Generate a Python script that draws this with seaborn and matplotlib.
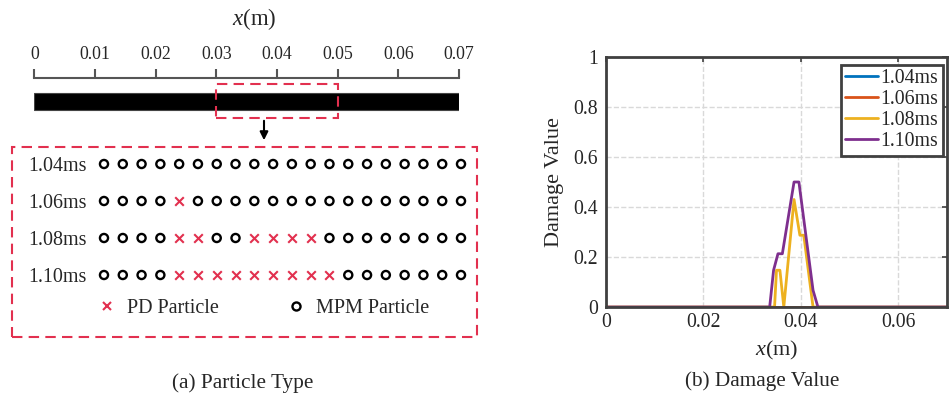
import numpy as np
import pandas as pd
import matplotlib
matplotlib.use('Agg')
import matplotlib.pyplot as plt
from matplotlib.patches import Rectangle
from matplotlib.lines import Line2D
import seaborn as sns

# ---------------- data ----------------
ruler_ticks = [0, 0.01, 0.02, 0.03, 0.04, 0.05, 0.06, 0.07]
ruler_labels = ['0', '0.01', '0.02', '0.03', '0.04', '0.05', '0.06', '0.07']
zoom_range = [0.03, 0.05]

times = ['1.04ms', '1.06ms', '1.08ms', '1.10ms']
n_particles = 20
pd_indices = {
    '1.04ms': [],
    '1.06ms': [4],
    '1.08ms': [4, 5, 8, 9, 10, 11],
    '1.10ms': [4, 5, 6, 7, 8, 9, 10, 11, 12],
}

x_104 = [0.0, 0.07]
d_104 = [0.0, 0.0]
x_106 = [0.0, 0.07]
d_106 = [0.0, 0.0]
x_108 = [0.0, 0.0346, 0.0350, 0.0357, 0.0365, 0.0386, 0.0398, 0.0406, 0.0425, 0.07]
d_108 = [0.0, 0.0, 0.147, 0.147, 0.0, 0.43, 0.287, 0.287, 0.0, 0.0]
x_110 = [0.0, 0.0336, 0.0344, 0.0353, 0.0362, 0.0386, 0.0396, 0.0425, 0.0435, 0.07]
d_110 = [0.0, 0.0, 0.147, 0.213, 0.213, 0.50, 0.50, 0.067, 0.0, 0.0]

xticks_b = [0, 0.02, 0.04, 0.06]
xticklabels_b = ['0', '0.02', '0.04', '0.06']
yticks_b = [0, 0.2, 0.4, 0.6, 0.8, 1.0]
yticklabels_b = ['0', '0.2', '0.4', '0.6', '0.8', '1']

colors = {'1.04ms': '#0072BD', '1.06ms': '#D95319',
          '1.08ms': '#EDB120', '1.10ms': '#7E2F8E'}
RED = '#E2304F'

# ---------------- style ----------------
sns.set_theme(style='white')
plt.rcParams['font.family'] = ['Liberation Serif', 'DejaVu Serif']
plt.rcParams['mathtext.fontset'] = 'custom'
plt.rcParams['mathtext.rm'] = 'Liberation Serif'
plt.rcParams['mathtext.it'] = 'Liberation Serif:italic'

W, H = 952, 398
fig = plt.figure(figsize=(W / 100, H / 100), dpi=100)


def fx(px):
    return px / W


def fy(py):
    return 1 - py / H


# ---------------- (a) ruler & bar ----------------
ax_r = fig.add_axes([fx(34.3), fy(120), (459 - 34.3) / W, 42 / H])
ax_r.set_xlim(ruler_ticks[0], ruler_ticks[-1])
ax_r.set_ylim(0, 1)
for s in ['left', 'right', 'bottom']:
    ax_r.spines[s].set_visible(False)
ax_r.spines['top'].set_color('#555555')
ax_r.spines['top'].set_linewidth(1.5)
ax_r.set_facecolor('none')
ax_r.xaxis.tick_top()
ax_r.set_xticks(ruler_ticks)
ax_r.set_xticklabels(ruler_labels)
ax_r.tick_params(axis='x', direction='out', length=6.5, width=1.5, color='#555555',
                 labelsize=12.8, pad=4)
ax_r.set_yticks([])
ax_r.axvspan(ruler_ticks[0], ruler_ticks[-1], ymin=0.238, ymax=0.65,
             facecolor='black', edgecolor='#444444', lw=0.8)
ax_r.axvspan(zoom_range[0], zoom_range[1], ymin=0.048, ymax=0.857, fill=False,
             edgecolor=RED, lw=1.5, ls=(0, (5, 3)), clip_on=False, zorder=5)
fig.text(fx(254), fy(19), '$x$(m)', ha='center', va='center', fontsize=16.5)

# arrow
fig.add_artist(matplotlib.patches.FancyArrowPatch(
    (fx(264), fy(118)), (fx(264), fy(143)), transform=fig.transFigure,
    arrowstyle='-|>', mutation_scale=12, color='black', lw=1.5))

# big dashed box
fig.add_artist(Rectangle((fx(11.7), fy(336.7)), (477 - 11.7) / W, (336.7 - 147.3) / H,
                         transform=fig.transFigure, fill=False, edgecolor=RED,
                         lw=1.5, ls=(0, (5, 3))))

# ---------------- (a) particles ----------------
rows = []
for r, t in enumerate(times):
    for i in range(n_particles):
        rows.append({'time': t, 'row': r, 'idx': i,
                     'type': 'PD' if i in pd_indices[t] else 'MPM'})
df_p = pd.DataFrame(rows)

ax_p = fig.add_axes([fx(94.6), fy(293.5), (470.4 - 94.6) / W, (293.5 - 145.5) / H])
sns.scatterplot(data=df_p[df_p['type'] == 'MPM'], x='idx', y='row', marker='o',
                s=34, color='black', linewidth=1.7, ax=ax_p, legend=False)
coll = ax_p.collections[-1]
coll.set_facecolor('none')
coll.set_edgecolor('black')
sns.scatterplot(data=df_p[df_p['type'] == 'PD'], x='idx', y='row', marker='x',
                s=38, color=RED, linewidth=1.5, ax=ax_p, legend=False)
ax_p.set_xlim(-0.5, n_particles - 0.5)
ax_p.set_ylim(len(times) - 0.5, -0.5)
for s in ax_p.spines.values():
    s.set_visible(False)
ax_p.set_facecolor('none')
ax_p.set_xticks([])
ax_p.set_xlabel('')
ax_p.set_ylabel('')
ax_p.set_yticks(range(len(times)))
ax_p.set_yticklabels(times)
ax_p.tick_params(axis='y', length=0, pad=5.7, labelsize=14.4)

h_pd = Line2D([], [], marker='x', color=RED, ls='', markersize=6.2, mew=1.5)
h_mpm = Line2D([], [], marker='o', mfc='none', mec='black', ls='', markersize=5.8, mew=1.7)
ax_p.legend([h_pd, h_mpm], ['PD Particle', 'MPM Particle'], ncol=2, frameon=False,
            loc='center left', bbox_to_anchor=(fx(97), fy(308)),
            bbox_transform=fig.transFigure, borderpad=0, borderaxespad=0,
            handlelength=1.0, handletextpad=0.5, columnspacing=3.3, fontsize=14.5)

fig.text(fx(243), fy(383), '(a) Particle Type', ha='center', va='center', fontsize=15.3)

# ---------------- (b) damage value ----------------
series = {'1.04ms': (x_104, d_104), '1.06ms': (x_106, d_106),
          '1.08ms': (x_108, d_108), '1.10ms': (x_110, d_110)}
recs = []
for t in times:
    xs, ds = series[t]
    for xv, dv in zip(xs, ds):
        recs.append({'time': t, 'x': xv, 'd': dv})
df_d = pd.DataFrame(recs)

ax = fig.add_axes([fx(606), fy(307), 341 / W, 250 / H])
sns.lineplot(data=df_d, x='x', y='d', hue='time', hue_order=times, palette=colors,
             estimator=None, sort=False, lw=2, ax=ax)
zorders = {'1.04ms': 2.0, '1.06ms': 2.2, '1.08ms': 2.1, '1.10ms': 2.3}
for line in ax.lines:
    for t in times:
        if matplotlib.colors.same_color(line.get_color(), colors[t]):
            line.set_zorder(zorders[t])

ax.set_xlim(0, 0.07)
ax.set_ylim(0, 1)
ax.set_xticks(xticks_b)
ax.set_xticklabels(xticklabels_b)
ax.set_yticks(yticks_b)
ax.set_yticklabels(yticklabels_b)
ax.grid(True, ls='--', color='#d9d9d9', lw=1)
for s in ax.spines.values():
    s.set_color('#404040')
    s.set_linewidth(2)
ax.tick_params(axis='both', direction='in', length=3.6, width=1.2, color='#404040',
               top=True, right=True, labelsize=14.2)
ax.tick_params(axis='x', pad=4.5)
ax.tick_params(axis='y', pad=6)
ax.set_xlabel('$x$(m)', fontsize=16)
ax.set_ylabel('Damage Value', fontsize=16)
ax.xaxis.set_label_coords(0.5, -0.128)
ax.yaxis.set_label_coords(-0.123, 0.5)

h, l = ax.get_legend_handles_labels()
leg = ax.legend(h, l, loc='upper right', bbox_to_anchor=(0.988, 0.968), borderaxespad=0,
                fontsize=14.3, frameon=True, fancybox=False, handlelength=1.65,
                handletextpad=0.15, labelspacing=0.1, borderpad=0.22)
leg.get_frame().set_edgecolor('#404040')
leg.get_frame().set_linewidth(2)
leg.get_frame().set_facecolor('white')
leg.get_frame().set_alpha(1)
for lh in leg.get_lines():
    lh.set_linewidth(2)

fig.text(fx(761.7), fy(381), '(b) Damage Value', ha='center', va='center', fontsize=15.3)

fig.savefig('out.png', dpi=100)
